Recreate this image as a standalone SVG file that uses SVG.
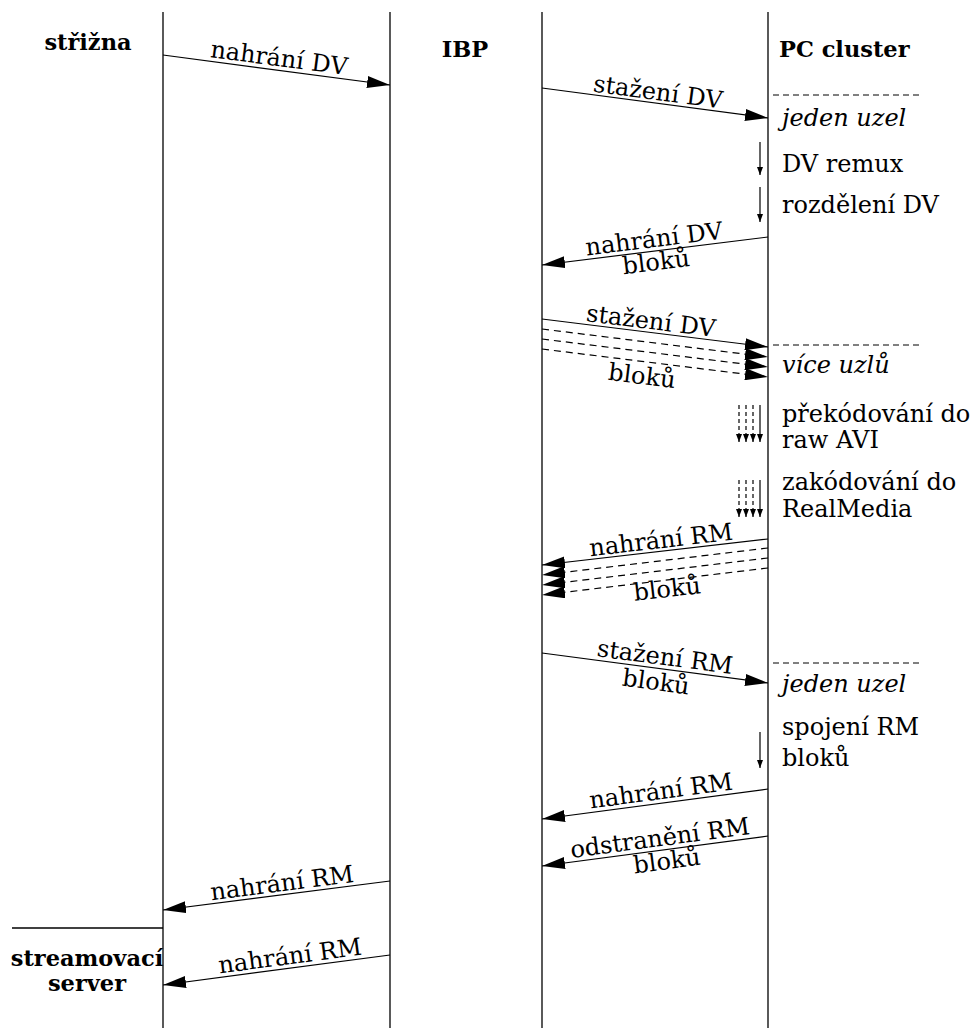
<svg xmlns="http://www.w3.org/2000/svg" width="977" height="1028" viewBox="0 0 977 1028">
<style>
text{font-family:"DejaVu Serif","Liberation Serif",serif;font-size:24px;fill:#000}
.b{font-weight:bold;font-size:22.5px}
.i{font-style:italic}
.m{text-anchor:middle}
.life{stroke:#000;stroke-width:1.3;fill:none}
.msg{stroke:#000;stroke-width:1.2;fill:none;marker-end:url(#ah)}
.dmsg{stroke:#000;stroke-width:1.2;fill:none;stroke-dasharray:7 5;marker-end:url(#ah)}
.sep{stroke:#000;stroke-width:1;stroke-dasharray:6 4;fill:none}
.step{stroke:#000;stroke-width:1.2;fill:none;marker-end:url(#sh)}
.dstep{stroke:#000;stroke-width:1.2;fill:none;stroke-dasharray:4 3;marker-end:url(#sh)}
</style>
<defs>
<marker id="ah" markerUnits="userSpaceOnUse" markerWidth="24" markerHeight="12" refX="23" refY="6" orient="auto"><path d="M0,0 L23,6 L0,12 z" fill="#000"/></marker>
<marker id="sh" markerUnits="userSpaceOnUse" markerWidth="9" markerHeight="6" refX="8" refY="3" orient="auto"><path d="M0,0 L8,3 L0,6 z" fill="#000"/></marker>
</defs>
<rect width="977" height="1028" fill="#fff"/>
<g id="strizna">
<line class="life" x1="163" y1="12" x2="163" y2="1028"/>
<text class="b m" x="88" y="50">střižna</text>
</g>
<g id="ibp">
<line class="life" x1="390" y1="12" x2="390" y2="1028"/>
<line class="life" x1="542" y1="12" x2="542" y2="1028"/>
<text class="b m" x="465" y="57">IBP</text>
</g>
<g id="pc-cluster">
<line class="life" x1="768" y1="12" x2="768" y2="1028"/>
<text class="b" x="779" y="57">PC cluster</text>
<line class="sep" x1="773" y1="95" x2="920" y2="95"/>
<text class="i" x="782" y="126">jeden uzel</text>
<text x="782" y="172">DV remux</text>
<text x="782" y="213">rozdělení DV</text>
<line class="sep" x1="773" y1="345" x2="920" y2="345"/>
<text class="i" x="782" y="373">více uzlů</text>
<text x="782" y="422">překódování do</text>
<text x="782" y="448">raw AVI</text>
<text x="782" y="490">zakódování do</text>
<text x="782" y="517">RealMedia</text>
<line class="sep" x1="773" y1="663" x2="920" y2="663"/>
<text class="i" x="782" y="692">jeden uzel</text>
<text x="782" y="735">spojení RM</text>
<text x="782" y="766">bloků</text>
</g>
<g id="streamovaci-server">
<line class="life" x1="12" y1="928" x2="163" y2="928"/>
<text class="b m" x="87" y="966">streamovací</text>
<text class="b m" x="87" y="991">server</text>
</g>
<g id="connectors">
<line class="msg" x1="163" y1="55" x2="390" y2="85"/>
<text transform="translate(278,66) rotate(7.53)" class="m">nahrání DV</text>
<line class="msg" x1="542" y1="88" x2="768" y2="118"/>
<text transform="translate(657,100) rotate(7.56)" class="m">stažení DV</text>
<line class="step" x1="760" y1="142" x2="760" y2="175"/>
<line class="step" x1="760" y1="187" x2="760" y2="222"/>
<line class="msg" x1="768" y1="237" x2="542" y2="265"/>
<text transform="translate(655,247) rotate(-7.06)" class="m">nahrání DV</text>
<text transform="translate(657,270) rotate(-7.06)" class="m">bloků</text>
<line class="msg" x1="542" y1="319" x2="768" y2="347"/>
<line class="dmsg" x1="542" y1="329" x2="768" y2="357"/>
<line class="dmsg" x1="542" y1="339" x2="768" y2="367"/>
<line class="dmsg" x1="542" y1="349" x2="768" y2="377"/>
<text transform="translate(650,329) rotate(7.06)" class="m">stažení DV</text>
<text transform="translate(641,384) rotate(7.06)" class="m">bloků</text>
<line class="dstep" x1="739" y1="405" x2="739" y2="442"/>
<line class="dstep" x1="746" y1="405" x2="746" y2="442"/>
<line class="dstep" x1="753" y1="405" x2="753" y2="442"/>
<line class="step" x1="760" y1="405" x2="760" y2="442"/>
<line class="dstep" x1="739" y1="480" x2="739" y2="517"/>
<line class="dstep" x1="746" y1="480" x2="746" y2="517"/>
<line class="dstep" x1="753" y1="480" x2="753" y2="517"/>
<line class="step" x1="760" y1="480" x2="760" y2="517"/>
<line class="msg" x1="768" y1="539" x2="542" y2="565"/>
<line class="dmsg" x1="768" y1="548" x2="542" y2="575"/>
<line class="dmsg" x1="768" y1="558" x2="542" y2="585"/>
<line class="dmsg" x1="768" y1="568" x2="542" y2="595"/>
<text transform="translate(662,548) rotate(-6.56)" class="m">nahrání RM</text>
<text transform="translate(668,597) rotate(-6.56)" class="m">bloků</text>
<line class="msg" x1="542" y1="653" x2="768" y2="683"/>
<text transform="translate(664,665) rotate(7.56)" class="m">stažení RM</text>
<text transform="translate(655,690) rotate(7.56)" class="m">bloků</text>
<line class="step" x1="760" y1="732" x2="760" y2="768"/>
<line class="msg" x1="768" y1="789" x2="542" y2="819"/>
<text transform="translate(662,799) rotate(-7.56)" class="m">nahrání RM</text>
<line class="msg" x1="768" y1="836" x2="542" y2="866"/>
<text transform="translate(661,846) rotate(-7.56)" class="m">odstranění RM</text>
<text transform="translate(668,869) rotate(-7.56)" class="m">bloků</text>
<line class="msg" x1="390" y1="881" x2="163" y2="910"/>
<text transform="translate(283,891) rotate(-7.28)" class="m">nahrání RM</text>
<line class="msg" x1="390" y1="955" x2="163" y2="985"/>
<text transform="translate(291,964) rotate(-7.53)" class="m">nahrání RM</text>
</g>
</svg>
